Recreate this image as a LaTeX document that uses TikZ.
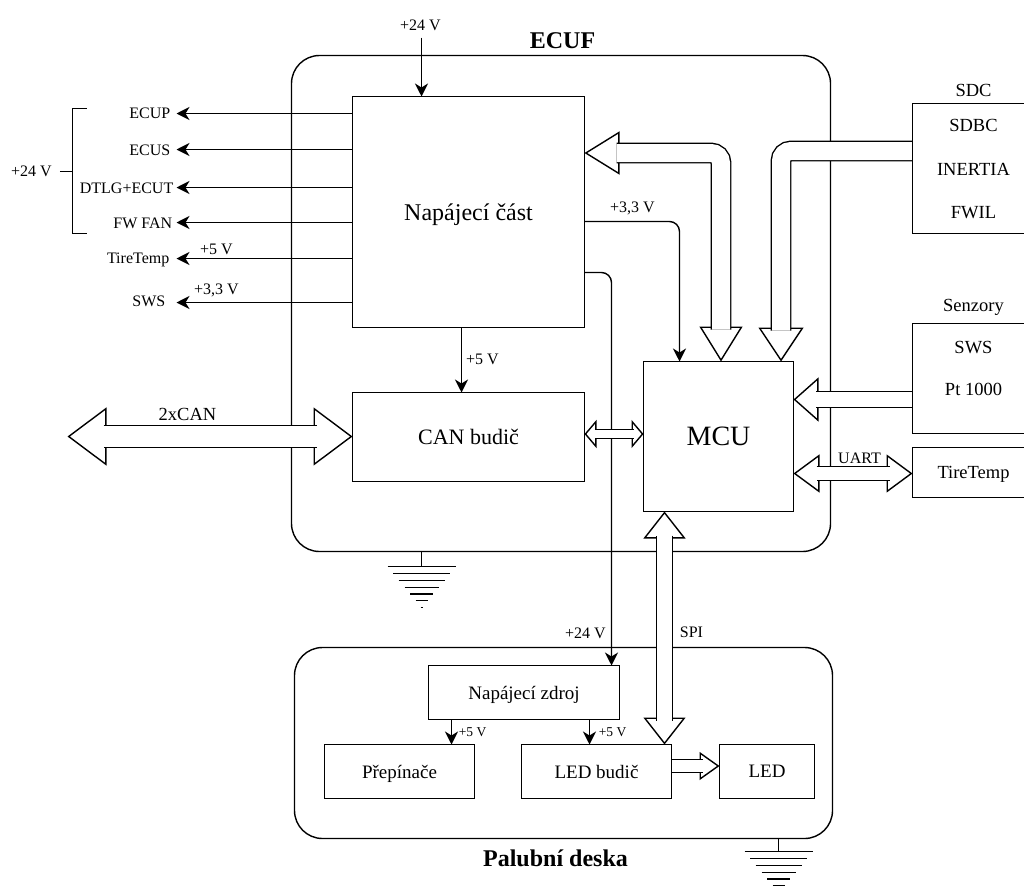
\documentclass[tikz,border=0pt]{standalone}
\usepackage{fontspec}
\setmainfont{Liberation Serif}
\usetikzlibrary{arrows.meta,backgrounds}
\pgfdeclarelayer{front}
\pgfsetlayers{main,front}
\newcommand{\fs}[1]{\fontsize{#1}{#1}\selectfont}
\tikzset{
  lw/.style={line width=1.4pt},
  box/.style={draw,lw,fill=white,inner sep=0pt,outer sep=0pt,anchor=north west,align=center,text depth=0pt},
  big/.style={draw,lw,rounded corners=28pt},
  wire/.style={draw,lw,-{Stealth[length=13pt,width=13pt,inset=4pt]}},
  wirecorner/.style={wire,rounded corners=10pt},
  lab/.style={inner sep=0pt,font=\fs{16}},
  boxlab/.style={inner sep=0pt,font=\fs{18.5}},
  small/.style={inner sep=0pt,font=\fs{13.5}},
  title/.style={inner sep=0pt,font=\fs{24}\bfseries},
  plain/.style={draw,lw},
  tipone/.style 2 args={draw,lw,-{Triangle[open,fill=white,length=#1,width=#2]}},
  tipboth/.style 2 args={draw,lw,{Triangle[open,fill=white,length=#1,width=#2]}-{Triangle[open,fill=white,length=#1,width=#2]}},
  fatbody/.style={lw,draw,double,double distance=#1},
  bent/.style={rounded corners=10pt},
}
% #1 path, #2 shaft, #3 tip length, #4 tip width, #5 extra options, #6 body shortening
\newcommand{\fatone}[6]{%
  \path[tipone={#3}{#4},#5] #1;
  \path[fatbody=#2,shorten >=#6,#5] #1;
}
\newcommand{\fatboth}[6]{%
  \path[tipboth={#3}{#4},#5] #1;
  \path[fatbody=#2,shorten >=#6,shorten <=#6,#5] #1;
}
\newcommand{\earth}[1]{%
  \foreach \dy/\hw in {0/34,7/28.5,14/23,21/17,27.5/11.5,34/6,41/1}
    \draw[plain] ([shift={(-\hw,\dy)}]#1) -- ([shift={(\hw,\dy)}]#1);
}
\begin{document}
\begin{tikzpicture}[x=1pt,y=-1pt,line join=miter]
\path[use as bounding box,clip] (-0.5,-0.5) rectangle (1023.5,885.5);
\fill[white] (-0.5,-0.5) rectangle (1023.5,885.5);

% outer boards
\node[big,minimum width=539pt,minimum height=496pt,anchor=north west,inner sep=0pt,outer sep=0pt] (ecuf) at (291,55) {};
\node[big,minimum width=538pt,minimum height=191pt,anchor=north west,inner sep=0pt,outer sep=0pt] (palub) at (294,647) {};

\begin{pgfonlayer}{front}
\node[box,minimum width=232pt,minimum height=231pt,font=\fs{24}] (nap) at (352,96) {Napájecí část};
\node[box,minimum width=232pt,minimum height=89pt,font=\fs{22}] (can) at (352,392) {CAN budič};
\node[box,minimum width=150pt,minimum height=150pt,font=\fs{28}] (mcu) at (643,361) {MCU};
\node[box,minimum width=122pt,minimum height=130pt] (sdc) at (912,103) {};
\node[box,minimum width=122pt,minimum height=110pt] (senz) at (912,323) {};
\node[box,minimum width=122pt,minimum height=50pt,font=\fs{18.5}] (tire) at (912,447) {TireTemp};
\node[box,minimum width=191pt,minimum height=54pt,font=\fs{19}] (zdroj) at (428,665) {Napájecí zdroj};
\node[box,minimum width=150pt,minimum height=54pt,font=\fs{19}] (prep) at (324,744) {Přepínače};
\node[box,minimum width=150pt,minimum height=54pt,font=\fs{19}] (led) at (521,744) {LED budič};
\node[box,minimum width=95pt,minimum height=54pt,font=\fs{19}] (ledd) at (719,744) {LED};
\node[boxlab] (l2) at (973,125) {SDBC};
\node[boxlab] (l3) at (973,169) {INERTIA};
\node[boxlab] (l4) at (973,212) {FWIL};
\node[boxlab] (l6) at (973,347) {SWS};
\node[boxlab] (l7) at (973,389) {Pt 1000};
\end{pgfonlayer}

% titles and text
\node[title] (t1) at (562,40) {ECUF};
\node[title] (t2) at (555,858) {Palubní deska};
\node[boxlab] (l1) at (973,90) {SDC};
\node[boxlab] (l5) at (973,307) {Senzory};

\node[lab] (top24) at (420,25) {+24 V};
\node[lab] (left24) at (31,171) {+24 V};
\node[lab,anchor=east] (ecup) at (170,112.5) {ECUP};
\node[lab,anchor=east] (ecus) at (170,149.5) {ECUS};
\node[lab,anchor=east] (dtlg) at (173,187.5) {DTLG+ECUT};
\node[lab,anchor=east] (fwfan) at (172,222.5) {FW FAN};
\node[lab,anchor=east] (tt) at (169,259) {TireTemp};
\node[lab,anchor=east] (sws) at (165,301) {SWS};
\node[lab] (v5a) at (216,249) {+5 V};
\node[lab] (v33a) at (216,290) {+3,3 V};
\node[lab] (v5b) at (482,359) {+5 V};
\node[lab] (v33b) at (632,208) {+3,3 V};
\node[boxlab] (c2) at (187,414) {2xCAN};
\node[lab] (v24c) at (585,633) {+24 V};
\node[lab] (spi) at (691,632) {SPI};
\node[small] (v5c) at (472,731.5) {+5 V};
\node[small] (v5d) at (612,731.5) {+5 V};

% bracket
\coordinate (bt) at (86,108);
\coordinate (bb) at (86,233);
\coordinate (bm) at (72,171);
\draw[plain] (bt) -- (72,108) -- (72,233) -- (bb);
\draw[plain] (left24.east) ++(8,0) coordinate (bs) -- (bm);

% thin wires
\coordinate (e1) at (176,113);
\coordinate (e2) at (176,149);
\coordinate (e3) at (176,187);
\coordinate (e4) at (176,222);
\coordinate (e5) at (176,258);
\coordinate (e6) at (176,302);
\draw[wire] (nap.west |- e1) -- (e1);
\draw[wire] (nap.west |- e2) -- (e2);
\draw[wire] (nap.west |- e3) -- (e3);
\draw[wire] (nap.west |- e4) -- (e4);
\draw[wire] (nap.west |- e5) -- (e5);
\draw[wire] (nap.west |- e6) -- (e6);
\coordinate (s1) at (421,37);
\draw[wire] (s1) -- (s1 |- nap.north);
\coordinate (s2) at (461,327);
\draw[wire] (s2) -- (s2 |- can.north);
\coordinate (s3) at (584,221);
\coordinate (s3e) at (679,361);
\draw[wirecorner] (s3) -| (s3e);
\coordinate (s4) at (584,272);
\coordinate (s4e) at (611,665);
\draw[wirecorner] (s4) -| (s4e);
\coordinate (s5) at (451,719);
\draw[wire] (s5) -- (s5 |- prep.north);
\coordinate (s6) at (589,719);
\draw[wire] (s6) -- (s6 |- led.north);

% fat arrows
\coordinate (a1) at (584,152.5);
\coordinate (a1e) at (720.5,361);
\fatboth{(a1e) |- (a1)}{18pt}{35pt}{43pt}{bent}{32pt}
\coordinate (a2) at (912,150.5);
\coordinate (a2e) at (780.5,361);
\fatone{(a2) -| (a2e)}{18pt}{34pt}{45pt}{bent}{31pt}
\coordinate (a3) at (912,399);
\fatone{(a3) -- (mcu.east |- a3)}{15pt}{25pt}{44pt}{}{22pt}
\coordinate (a4) at (793,473);
\fatboth{(a4) -- (tire.west |- a4)}{13pt}{26pt}{38pt}{}{23pt}
\coordinate (a5) at (584,433.5);
\fatboth{(a5) -- (mcu.west |- a5)}{8pt}{12pt}{28pt}{}{10pt}
\coordinate (a6) at (664,511);
\fatboth{(a6) -- (a6 |- led.north)}{15pt}{27pt}{42pt}{}{24pt}
\coordinate (a7) at (671,765.5);
\fatone{(a7) -- (ledd.west |- a7)}{12pt}{20pt}{28pt}{}{17pt}
\coordinate (a8) at (67,436);
\fatboth{(a8) -- (can.west |- a8)}{21pt}{39pt}{58pt}{}{36pt}

\node[lab] (uart) at (859,458) {UART};

% earth symbols
\coordinate (gA) at (421,566);
\coordinate (gB) at (778,851);
\draw[plain] (gA |- ecuf.south) -- (gA);
\draw[plain] (gB |- palub.south) -- (gB);
\earth{gA}
\earth{gB}
\end{tikzpicture}
\end{document}
